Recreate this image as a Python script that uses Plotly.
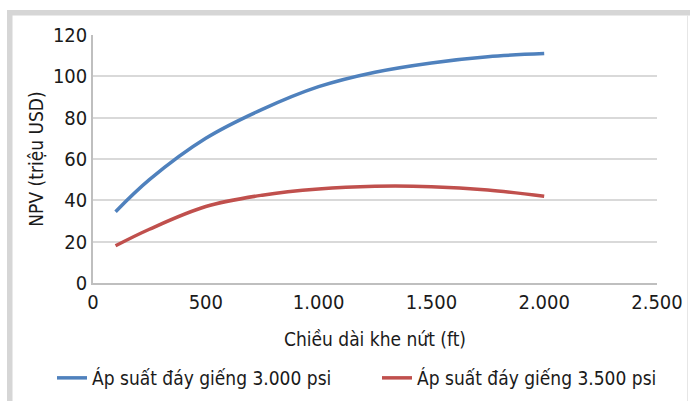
import plotly.graph_objects as go

# Data
fracture_length_ft = [100, 250, 500, 750, 1000, 1250, 1500, 1750, 2000]
npv_3000_psi = [34.5, 50, 70, 84, 95, 102, 106.5, 109.5, 111]
npv_3500_psi = [18, 26, 37, 42.5, 45.5, 46.8, 46.6, 45, 42]
series_names = ["Áp suất đáy giếng 3.000 psi", "Áp suất đáy giếng 3.500 psi"]
x_ticks = [0, 500, 1000, 1500, 2000, 2500]
x_tick_labels = ["0", "500", "1.000", "1.500", "2.000", "2.500"]
y_ticks = [0, 20, 40, 60, 80, 100, 120]

FONT = "DejaVu Sans Condensed, Liberation Sans Narrow, sans-serif"

fig = go.Figure()
fig.add_trace(go.Scatter(x=fracture_length_ft, y=npv_3000_psi, name=series_names[0],
                         mode="lines", line=dict(color="#4f81bd", width=3.5, shape="spline", smoothing=1)))
fig.add_trace(go.Scatter(x=fracture_length_ft, y=npv_3500_psi, name=series_names[1],
                         mode="lines", line=dict(color="#c0504d", width=3.5, shape="spline", smoothing=1)))

W, H = 690, 401
L, R, T, B = 93, 33, 35, 118
pw, ph = W - L - R, H - T - B

def px(x):
    return (x - L) / pw

def py(y):
    return (H - B - y) / ph

shapes = [
    # outer frame (light gray border)
    dict(type="rect", xref="paper", yref="paper", x0=px(7), x1=px(12.5), y0=py(401), y1=py(10),
         fillcolor="#d6d6d6", line=dict(width=0), layer="below"),
    dict(type="rect", xref="paper", yref="paper", x0=px(7), x1=px(690), y0=py(15.5), y1=py(10),
         fillcolor="#d6d6d6", line=dict(width=0), layer="below"),
    dict(type="line", xref="paper", yref="paper", x0=px(687.5), x1=px(687.5), y0=py(401), y1=py(15),
         line=dict(color="#e6e6e6", width=1), layer="below"),
]

fig.update_layout(
    width=W, height=H,
    margin=dict(l=L, r=R, t=T, b=B, autoexpand=False),
    paper_bgcolor="white", plot_bgcolor="white",
    font=dict(family=FONT, size=19, color="#1a1a1a"),
    shapes=shapes,
    showlegend=True,
    legend=dict(orientation="h", x=px(52), y=py(378), xanchor="left", yanchor="middle",
                entrywidth=280, entrywidthmode="pixels", font=dict(size=19, family=FONT),
                bgcolor="rgba(0,0,0,0)", traceorder="normal"),
)
fig.update_xaxes(range=[0, 2500], tickvals=x_ticks, ticktext=x_tick_labels,
                 showgrid=False, zeroline=False, showline=True, linecolor="#bfbfbf", linewidth=1.5,
                 ticks="", tickfont=dict(size=20, family=FONT),
                 title=dict(text="Chiều dài khe nứt (ft)", font=dict(size=19, family=FONT), standoff=20))
fig.update_yaxes(range=[0, 120], tickvals=y_ticks,
                 showgrid=True, gridcolor="#d9d9d9", gridwidth=1.5, zeroline=False,
                 showline=True, linecolor="#bfbfbf", linewidth=1.5, ticks="",
                 tickfont=dict(size=20, family=FONT),
                 title=dict(text="NPV (triệu USD)", font=dict(size=19, family=FONT), standoff=4))

fig.write_html("out.html")
